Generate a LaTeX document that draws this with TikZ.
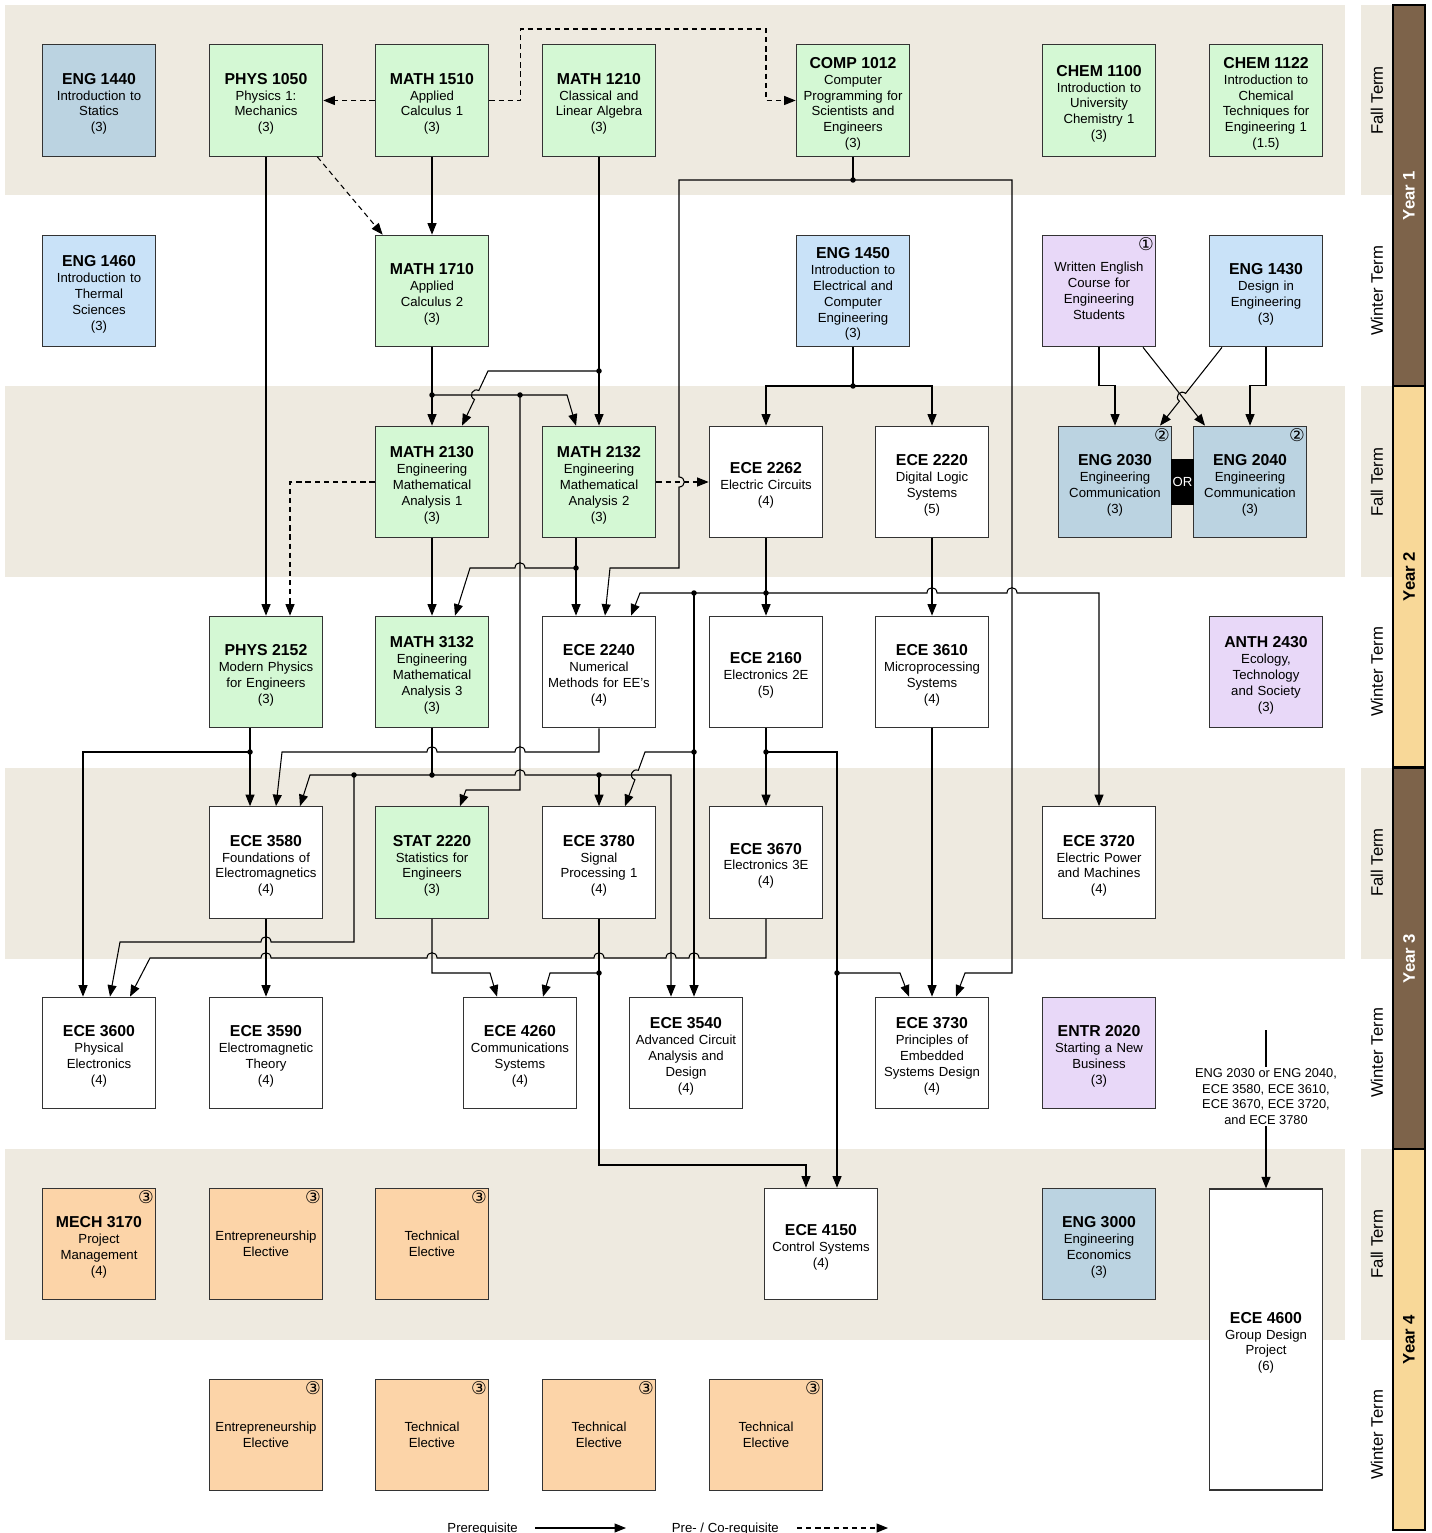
\documentclass[tikz,border=0pt]{standalone}
\usepackage{fontspec}
\setmainfont{Liberation Sans}
\newfontfamily\symf{DejaVu Sans}
\usetikzlibrary{positioning,calc,arrows.meta}

\definecolor{bandbg}{HTML}{EEEAE0}
\definecolor{cgreen}{HTML}{D4F8D4}
\definecolor{cgrey}{HTML}{BBD3E1}
\definecolor{cblue}{HTML}{C9E2F8}
\definecolor{cviolet}{HTML}{E8D8F8}
\definecolor{corange}{HTML}{FCD4A8}
\definecolor{yearbrown}{HTML}{7D634A}
\definecolor{yeartan}{HTML}{F8D898}

\tikzset{
  box/.style={draw=black!80, line width=0.7pt, fill=white, minimum width=2.24cm,
    minimum height=2.23cm, inner sep=1pt, text width=2.2cm, align=center,
    font=\fontsize{7.5}{9}\selectfont},
  link/.style={line width=0.6pt, draw=black},
  pre/.style={link, -{Triangle[length=2.3mm,width=1.8mm]}},
  coreq/.style={pre, dash pattern=on 3pt off 2.2pt},
  jdot/.style={circle, fill=black, inner sep=0pt, minimum size=0.11cm},
  circnum/.style={anchor=north east, inner sep=1.2pt, font=\symf\fontsize{10}{10}\selectfont},
  termlbl/.style={rotate=90, font=\fontsize{9.5}{10}\selectfont},
  yearlbl/.style={rotate=90, font=\bfseries\fontsize{9.5}{10}\selectfont},
}
\newcommand\crs[2]{{\bfseries\fontsize{9}{10}\selectfont\rule{0pt}{10pt}#1}\\#2}
\newcommand\hopR[2]{-- ({#1-5},#2) .. controls ({#1-5},{#2-7}) and ({#1+5},{#2-7}) .. ({#1+5},#2)}
\newcommand\hopL[2]{-- ({#1+5},#2) .. controls ({#1+5},{#2-7}) and ({#1-5},{#2-7}) .. ({#1-5},#2)}
\newcommand\hopD[2]{-- (#1,{#2-5}) .. controls ({#1+7},{#2-5}) and ({#1+7},{#2+5}) .. (#1,{#2+5})}

\begin{document}
\begin{tikzpicture}[x=0.02cm, y=-0.02cm]
\useasboundingbox (0,0) rectangle (1431,1533);

% term bands
\foreach \y in {5,386,768,1149} {
  \fill[bandbg] (5,\y) rectangle (1345,{\y+190.5});
  \fill[bandbg] (1361,\y) rectangle (1393,{\y+190.5});
}
\foreach \t/\y in {Fall/100.5, Winter/291, Fall/482, Winter/672, Fall/862.5, Winter/1053, Fall/1244, Winter/1435}
  \node[termlbl] at (1377,\y) {\t\ Term};
\foreach \yr/\y/\c/\tc in {1/5/yearbrown/white, 2/386/yeartan/black, 3/768/yearbrown/white, 4/1149/yeartan/black} {
  \filldraw[fill=\c, draw=black, line width=0.6pt] (1393,\y) rectangle (1425,{\y+381});
  \node[yearlbl, text=\tc] at (1409,{\y+190.5}) {Year \yr};
}

% YEAR 1 FALL
\node[box, fill=cgrey]  (eng1440)  at (99,100.5)  {\crs{ENG 1440}{Introduction to\\Statics\\(3)}};
\node[box, fill=cgreen] (phys1050) at (266,100.5) {\crs{PHYS 1050}{Physics 1:\\Mechanics\\(3)}};
\node[box, fill=cgreen] (math1510) at (432,100.5) {\crs{MATH 1510}{Applied\\Calculus 1\\(3)}};
\node[box, fill=cgreen] (math1210) at (599,100.5) {\crs{MATH 1210}{Classical and\\Linear Algebra\\(3)}};
\node[box, fill=cgreen] (comp1012) at (853,100.5) {\crs{COMP 1012}{Computer\\Programming for\\Scientists and\\Engineers\\(3)}};
\node[box, fill=cgreen] (chem1100) at (1099,100.5) {\crs{CHEM 1100}{Introduction to\\University\\Chemistry 1\\(3)}};
\node[box, fill=cgreen] (chem1122) at (1266,100.5) {\crs{CHEM 1122}{Introduction to\\Chemical\\Techniques for\\Engineering 1\\(1.5)}};

% YEAR 1 WINTER
\node[box, fill=cblue]   (eng1460)  at (99,291)   {\crs{ENG 1460}{Introduction to\\Thermal\\Sciences\\(3)}};
\node[box, fill=cgreen]  (math1710) at (432,291)  {\crs{MATH 1710}{Applied\\Calculus 2\\(3)}};
\node[box, fill=cblue]   (eng1450)  at (853,291)  {\crs{ENG 1450}{Introduction to\\Electrical and\\Computer\\Engineering\\(3)}};
\node[box, fill=cviolet] (wenglish) at (1099,291) {Written English\\Course for\\Engineering\\Students};
\node[box, fill=cblue]   (eng1430)  at (1266,291) {\crs{ENG 1430}{Design in\\Engineering\\(3)}};
\node[circnum] at (wenglish.north east) {①};

% YEAR 2 FALL
\node[box, fill=cgreen] (math2130) at (432,482)  {\crs{MATH 2130}{Engineering\\Mathematical\\Analysis 1\\(3)}};
\node[box, fill=cgreen] (math2132) at (599,482)  {\crs{MATH 2132}{Engineering\\Mathematical\\Analysis 2\\(3)}};
\node[box]              (ece2262)  at (766,482)  {\crs{ECE 2262}{Electric Circuits\\(4)}};
\node[box]              (ece2220)  at (932,482)  {\crs{ECE 2220}{Digital Logic\\Systems\\(5)}};
\node[box, fill=cgrey]  (eng2030)  at (1115,482) {\crs{ENG 2030}{Engineering\\Communication\\(3)}};
\node[box, fill=cgrey]  (eng2040)  at (1250,482) {\crs{ENG 2040}{Engineering\\Communication\\(3)}};
\node[circnum] at (eng2030.north east) {②};
\node[circnum] at (eng2040.north east) {②};
\node[fill=black, text=white, minimum width=0.46cm, minimum height=0.94cm, inner sep=0pt,
  font=\fontsize{7.5}{9}\selectfont] (orlink) at (1182.5,482) {OR};

% YEAR 2 WINTER
\node[box, fill=cgreen]  (phys2152) at (266,672)  {\crs{PHYS 2152}{Modern Physics\\for Engineers\\(3)}};
\node[box, fill=cgreen]  (math3132) at (432,672)  {\crs{MATH 3132}{Engineering\\Mathematical\\Analysis 3\\(3)}};
\node[box]               (ece2240)  at (599,672)  {\crs{ECE 2240}{Numerical\\Methods for EE's\\(4)}};
\node[box]               (ece2160)  at (766,672)  {\crs{ECE 2160}{Electronics 2E\\(5)}};
\node[box]               (ece3610)  at (932,672)  {\crs{ECE 3610}{Microprocessing\\Systems\\(4)}};
\node[box, fill=cviolet] (anth2430) at (1266,672) {\crs{ANTH 2430}{Ecology,\\Technology\\and Society\\(3)}};

% YEAR 3 FALL
\node[box]              (ece3580)  at (266,862.5)  {\crs{ECE 3580}{Foundations of\\Electromagnetics\\(4)}};
\node[box, fill=cgreen] (stat2220) at (432,862.5)  {\crs{STAT 2220}{Statistics for\\Engineers\\(3)}};
\node[box]              (ece3780)  at (599,862.5)  {\crs{ECE 3780}{Signal\\Processing 1\\(4)}};
\node[box]              (ece3670)  at (766,862.5)  {\crs{ECE 3670}{Electronics 3E\\(4)}};
\node[box]              (ece3720)  at (1099,862.5) {\crs{ECE 3720}{Electric Power\\and Machines\\(4)}};

% YEAR 3 WINTER
\node[box]               (ece3600)  at (99,1053)   {\crs{ECE 3600}{Physical\\Electronics\\(4)}};
\node[box]               (ece3590)  at (266,1053)  {\crs{ECE 3590}{Electromagnetic\\Theory\\(4)}};
\node[box]               (ece4260)  at (520,1053)  {\crs{ECE 4260}{Communications\\Systems\\(4)}};
\node[box]               (ece3540)  at (686,1053)  {\crs{ECE 3540}{Advanced Circuit\\Analysis and\\Design\\(4)}};
\node[box]               (ece3730)  at (932,1053)  {\crs{ECE 3730}{Principles of\\Embedded\\Systems Design\\(4)}};
\node[box, fill=cviolet] (entr2020) at (1099,1053) {\crs{ENTR 2020}{Starting a New\\Business\\(3)}};

% YEAR 4
\node[box, fill=corange] (mech3170) at (99,1244)  {\crs{MECH 3170}{Project\\Management\\(4)}};
\node[box, fill=corange] (entrel1)  at (266,1244) {Entrepreneurship\\Elective};
\node[box, fill=corange] (techel1)  at (432,1244) {Technical\\Elective};
\node[box]               (ece4150)  at (821,1244) {\crs{ECE 4150}{Control Systems\\(4)}};
\node[box, fill=cgrey]   (eng3000)  at (1099,1244) {\crs{ENG 3000}{Engineering\\Economics\\(3)}};
\node[box, minimum height=6.02cm] (ece4600) at (1266,1339.5) {\crs{ECE 4600}{Group Design\\Project\\(6)}};
\node[box, fill=corange] (entrel2)  at (266,1435) {Entrepreneurship\\Elective};
\node[box, fill=corange] (techel2)  at (432,1435) {Technical\\Elective};
\node[box, fill=corange] (techel3)  at (599,1435) {Technical\\Elective};
\node[box, fill=corange] (techel4)  at (766,1435) {Technical\\Elective};
\foreach \n in {mech3170,entrel1,techel1,entrel2,techel2,techel3,techel4}
  \node[circnum] at (\n.north east) {③};

% junctions
\coordinate (j1210)  at (599,371);
\coordinate (j1710a) at (432,395);
\coordinate (j1710b) at (520,395);
\coordinate (jcomp)  at (853,180);
\coordinate (j1450)  at (853,386);
\coordinate (j2132)  at (576,568);
\coordinate (j2262a) at (766,593);
\coordinate (j2262b) at (694,593);
\coordinate (j2262c) at (694,752);
\coordinate (j2160a) at (766,752);
\coordinate (j2160b) at (837,973);
\coordinate (j2152)  at (250,752);
\coordinate (j3132a) at (432,775);
\coordinate (j3132b) at (354,775);
\coordinate (j3132c) at (599,775);
\coordinate (j3780)  at (599,973);
\coordinate (req4600) at (1266,1030);

% YEAR 1 LINKS
\draw[coreq] (math1510.west) -- (phys1050.east);
\draw[coreq] (math1510.east) -- ++(31,0) |- (766,29) |- (comp1012.west);
\draw[coreq] ($(phys1050.south east)+(-6,0)$) -- ($(math1710.north west)+(8,0)$);
\draw[pre] (math1510) -- (math1710);
\draw[pre] (phys1050) -- (phys2152);
\draw[pre] (math1210) -- (math2132);
\draw[pre] (j1210) -- (488,371) -- (478.8,390.5) .. controls (472.5,387.5) and (468.2,396.5) .. (474.5,399.5) -- ($(math2130.north)+(30,0)$);
\draw[pre] (math1710) -- (math2130);
\draw[pre] (j1710a) -- (567,395) -- ($(math2132.north)+(-23,0)$);
\draw[pre] (j1710b) -- (520,790) -- (466,790) -- ($(stat2220.north)+(28,0)$);
\draw[link] (comp1012) -- (jcomp);
\draw[pre] (jcomp) -- (679,180) \hopD{679}{482} -- (679,568) -- (610,568) -- ($(ece2240.north)+(6,0)$);
\draw[pre] (jcomp) -- (1012,180) -- (1012,973) -- (965,973) -- ($(ece3730.north)+(24,0)$);
\draw[link] (eng1450) -- (j1450);
\draw[pre] (j1450) -| (ece2262.north);
\draw[pre] (j1450) -| (ece2220.north);
\draw[pre] (wenglish.south) -- ++(0,38) -| (eng2030.north);
\draw[pre] (eng1430.south) -- ++(0,38) -| (eng2040.north);
\draw[pre] ($(wenglish.south)+(44,0)$) -- ($(eng2040.north)+(-45,0)$);
\draw[pre] ($(eng1430.south)+(-44,0)$) -- (1185.6,393.4) .. controls (1180.1,389.1) and (1173.9,396.9) .. (1179.4,401.2) -- ($(eng2030.north)+(45,0)$);

% YEAR 2 LINKS
\draw[coreq] (math2130.west) -| ($(phys2152.north)+(24,0)$);
\draw[pre] (math2130) -- (math3132);
\draw[coreq] (math2132) -- (ece2262);
\draw[pre] (math2132.south -| j2132) -- (ece2240.north -| j2132);
\draw[pre] (j2132) \hopL{520}{568} -- (470,568) -- ($(math3132.north)+(23,0)$);
\draw[pre] (ece2220) -- (ece3610);
\draw[pre] (ece2262) -- (ece2160);
\draw[pre] (j2262a) -- (640,593) -- ($(ece2240.north)+(32,0)$);
\draw[pre] (j2262a) \hopR{932}{593} \hopR{1012}{593} -| (ece3720.north);
\draw[pre] (j2262b) -- (ece3540.north -| j2262b);
\draw[pre] (j2262c) -- (645,752) -- (638.3,770.3) .. controls (631.7,767.9) and (628.3,777.3) .. (634.9,779.7) -- ($(ece3780.north)+(26,0)$);
\draw[pre] (phys2152.south -| j2152) -- (ece3580.north -| j2152);
\draw[pre] (j2152) -- (83,752) -- ($(ece3600.north)+(-16,0)$);
\draw[pre] (ece2240.south) -- (599,752) \hopL{520}{752} \hopL{432}{752} -- (282,752) -- ($(ece3580.north)+(10,0)$);
\draw[link] (math3132) -- (j3132a);
\draw[pre] (j3132a) -- (310,775) -- ($(ece3580.north)+(34,0)$);
\draw[pre] (j3132b) -- (354,942) \hopL{266}{942} -- (120,942) -- ($(ece3600.north)+(11,0)$);
\draw[pre] (j3132a) \hopR{520}{775} -| ($(ece3540.north)+(-15,0)$);
\draw[pre] (j3132c) -- (ece3780);
\draw[pre] (ece2160) -- (ece3670);
\draw[pre] (j2160a) -| ($(ece4150.north)+(16,0)$);
\draw[pre] (j2160b) -- (900,973) -- ($(ece3730.north)+(-23,0)$);
\draw[pre] (ece3610) -- (ece3730);

% YEAR 3 LINKS
\draw[pre] (ece3580) -- (ece3590);
\draw[pre] (ece3670.south) -- (766,958) \hopL{694}{958} \hopL{671}{958} \hopL{599}{958} \hopL{432}{958} \hopL{266}{958} -- (150,958) -- ($(ece3600.north)+(31,0)$);
\draw[pre] (stat2220.south) -- (432,973) -- (490,973) -- ($(ece4260.north)+(-23,0)$);
\draw[link] (ece3780) -- (j3780);
\draw[pre] (j3780) -- (550,973) -- ($(ece4260.north)+(23,0)$);
\draw[pre] (j3780) -- (599,1165) -| ($(ece4150.north)+(-15,0)$);
\draw[pre] (req4600) -- node[pos=0.42, fill=white, inner sep=1pt, align=center,
  font=\fontsize{7.3}{8.8}\selectfont] {ENG 2030 or ENG 2040,\\ECE 3580, ECE 3610,\\ECE 3670, ECE 3720,\\and ECE 3780} (ece4600.north);

\foreach \j in {j1210,j1710a,j1710b,jcomp,j1450,j2132,j2262a,j2262b,j2262c,j2160a,j2160b,j2152,j3132a,j3132b,j3132c,j3780}
  \node[jdot] at (\j) {};

% legend
\node[anchor=base east, font=\fontsize{7.5}{9}\selectfont] (legpre) at (524,1532) {Prerequisite};
\node[anchor=base east, font=\fontsize{7.5}{9}\selectfont] (legco) at (785,1532) {Pre- / Co-requisite};
\coordinate (legA) at (535,1528);
\coordinate (legB) at (797,1528);
\draw[pre] (legA) -- ++(91,0);
\draw[coreq] (legB) -- ++(91,0);
\end{tikzpicture}
\end{document}
